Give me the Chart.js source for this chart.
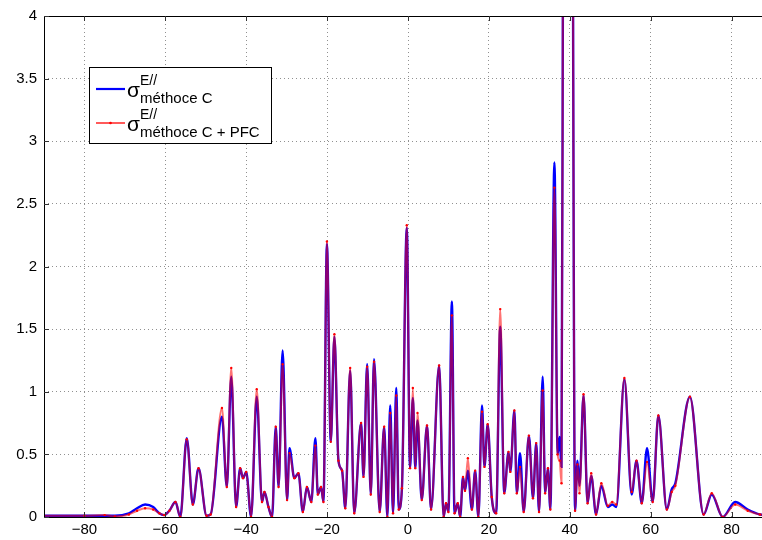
<!DOCTYPE html>
<html>
<head>
<meta charset="utf-8">
<script src="https://cdn.jsdelivr.net/npm/chart.js@4/dist/chart.umd.min.js"></script>
<style>
    html, body { margin: 0; padding: 0; background: #fff; overflow: hidden; }
    #wrap { width: 780px; height: 540px; }
</style>
</head>
<body>
<div id="wrap"><canvas id="sigmaChart" width="780" height="540"></canvas></div>
<script>
/************************
 *      Resource
 ************************/
const ANGLES = [
    -90, -80, -75, -72.5, -69, -67, -65, -63, -61.5, -60.3, -59, -57.5, -56.3, -54.7, -53.2, -51.8,
    -49.8, -48.8, -46, -44.8, -43.7, -42.5, -41.5, -40.8, -40, -38.8, -37.4, -36.1, -35.5, -34.5,
    -33.6, -32.7, -32, -31, -29.9, -29.3, -28.1, -27.1, -26, -25, -23.9, -22.9, -22.3, -21.5, -20.9,
    -20.05, -19.1, -18.2, -17.2, -16.3, -15.5, -14.3, -13.3, -11.6, -11, -10.1, -9.2, -8.4, -7,
    -5.9, -5.1, -4.4, -3.7, -2.9, -2.3, -1.5, -0.3, 0.5, 1.2, 1.8, 2.35, 3.4, 4.7, 5.7, 7.7, 8.8,
    9.4, 10, 10.85, 11.5, 12.3, 12.9, 13.6, 14.1, 14.8, 15.8, 16.6, 17.4, 18.3, 18.9, 19.7, 20.7,
    21.8, 22.8, 23.8, 24.85, 25.3, 26.3, 26.9, 27.7, 28.6, 29.9, 30.9, 31.7, 32.4, 33.3, 33.9,
    34.6, 35.2, 36.2, 37, 37.5, 37.95, 38.3, 39.55, 40.8, 41.3, 41.9, 42.4, 43.4, 44.4, 45.3,
    46.5, 47.8, 49.4, 50.5, 51.5, 53.5, 55.3, 56.5, 57.8, 59.1, 60.5, 61.9, 64, 65.2, 66.1,
    69.7, 73.1, 75.1, 77.8, 80.9, 84, 87, 90
]
const SIGMA_C = [
    0.01, 0.01, 0.01, 0.01, 0.03, 0.07, 0.10, 0.08, 0.03, 0.015, 0.05, 0.12, 0.0, 0.63, 0.10, 0.39,
    0.01, 0.02, 0.80, 0.24, 1.12, 0.08, 0.39, 0.31, 0.36, 0.0, 0.96, 0.12, 0.20, 0.08,
    0.0, 0.72, 0.24, 1.33, 0.135, 0.55, 0.31, 0.35, 0.04, 0.24, 0.12, 0.63, 0.18, 0.24, 0.12,
    2.18, 0.60, 1.44, 0.45, 0.37, 0.07, 1.17, 0.03, 0.75, 0.32, 1.22, 0.18, 1.26, 0.04,
    0.72, 0.0, 0.89, 0.03, 1.03, 0.06, 0.23, 2.31, 0.39, 0.95, 0.39, 0.77, 0.135, 0.73, 0.06, 1.21, 0.0,
    0.11, 0.04, 1.72, 0.03, 0.11, 0.0, 0.32, 0.21, 0.37, 0.06, 0.37, 0.0, 0.89, 0.40, 0.74, 0.16,
    0.03, 1.52, 0.19, 0.52, 0.36, 0.85, 0.19, 0.51, 0.04, 0.65, 0.15, 0.59, 0.04, 1.12, 0.19,
    0.39, 0.06, 2.83, 0.50, 0.64, 0.40, 4.2, 25, 4.2, 0.05, 0.45, 0.25, 0.97, 0.11, 0.33,
    0.02, 0.25, 0.08, 0.10, 0.08, 1.10, 0.18, 0.45, 0.11, 0.55, 0.12, 0.81, 0.06, 0.22, 0.27,
    0.96, 0.02, 0.18, 0.0, 0.12, 0.06, 0.02, 0.01
]
const SIGMA_C_PFC = [
    0.01, 0.01, 0.015, 0.005, 0.02, 0.05, 0.07, 0.06, 0.03, 0.015, 0.05, 0.12, 0.0, 0.62, 0.10, 0.39,
    0.01, 0.02, 0.87, 0.24, 1.19, 0.08, 0.39, 0.31, 0.36, 0.0, 1.02, 0.12, 0.20, 0.08,
    0.0, 0.72, 0.24, 1.22, 0.135, 0.51, 0.31, 0.35, 0.04, 0.24, 0.12, 0.57, 0.18, 0.24, 0.12,
    2.20, 0.60, 1.46, 0.45, 0.37, 0.07, 1.19, 0.03, 0.75, 0.32, 1.20, 0.18, 1.24, 0.04,
    0.72, 0.0, 0.83, 0.03, 0.97, 0.06, 0.23, 2.33, 0.39, 1.03, 0.39, 0.83, 0.135, 0.73, 0.06, 1.21, 0.0,
    0.11, 0.04, 1.61, 0.03, 0.11, 0.0, 0.32, 0.21, 0.47, 0.06, 0.37, 0.0, 0.84, 0.40, 0.74, 0.16,
    0.03, 1.66, 0.19, 0.52, 0.36, 0.85, 0.19, 0.40, 0.04, 0.65, 0.15, 0.59, 0.04, 1.01, 0.19,
    0.39, 0.06, 2.63, 0.50, 0.45, 0.27, 4.2, 25, 4.2, 0.05, 0.42, 0.19, 0.98, 0.11, 0.35,
    0.02, 0.27, 0.09, 0.12, 0.10, 1.11, 0.20, 0.45, 0.11, 0.44, 0.12, 0.81, 0.06, 0.20, 0.25,
    0.96, 0.02, 0.19, 0.0, 0.10, 0.05, 0.02, 0.01
]
const X_TICKS = [-80, -60, -40, -20, 0, 20, 40, 60, 80]
const Y_TICKS = [0, 0.5, 1, 1.5, 2, 2.5, 3, 3.5, 4]
const SERIES_NAMES = ["méthoce C", "méthoce C + PFC"]

const FONT = "'Liberation Sans', Arial, Helvetica, sans-serif"

/************************
 *      Method
 ************************/
const toPoints = (ys) => ANGLES.map((x, i) => ({ x: x, y: ys[i] }))

// MATLAB style box, inward ticks and the sigma legend
const framePlugin = {
    id: "frame",
    afterDatasetsDraw: (chart) => {
        const ctx = chart.ctx
        const area = chart.chartArea
        const xs = chart.scales.x
        const ys = chart.scales.y
        ctx.save()
        ctx.strokeStyle = "#000"
        ctx.lineWidth = 1
        ctx.beginPath()
        ctx.moveTo(area.left + 0.5, area.top + 0.5)
        ctx.lineTo(area.left + 0.5, area.bottom + 0.5)
        ctx.lineTo(area.right, area.bottom + 0.5)
        ctx.moveTo(area.left + 0.5, area.top + 0.5)
        ctx.lineTo(area.right, area.top + 0.5)
        ctx.stroke()

        ctx.strokeStyle = "#333"
        ctx.beginPath()
        X_TICKS.forEach(v => {
            const px = Math.round(xs.getPixelForValue(v)) + 0.5
            ctx.moveTo(px, area.bottom)
            ctx.lineTo(px, area.bottom - 5)
            ctx.moveTo(px, area.top)
            ctx.lineTo(px, area.top + 5)
        })
        Y_TICKS.forEach(v => {
            const py = Math.round(ys.getPixelForValue(v)) + 0.5
            ctx.moveTo(area.left, py)
            ctx.lineTo(area.left + 5, py)
        })
        ctx.stroke()
        ctx.restore()
    },
    afterDraw: (chart) => {
        const ctx = chart.ctx
        ctx.save()
        // box
        ctx.fillStyle = "#fff"
        ctx.fillRect(89.5, 67.5, 182, 76)
        ctx.strokeStyle = "#000"
        ctx.lineWidth = 1
        ctx.strokeRect(89.5, 67.5, 182, 76)

        // line samples
        ctx.lineWidth = 2.2
        ctx.strokeStyle = "#0000ff"
        ctx.beginPath()
        ctx.moveTo(96, 89)
        ctx.lineTo(125, 89)
        ctx.stroke()
        ctx.lineWidth = 1.3
        ctx.strokeStyle = "#ff0000"
        ctx.beginPath()
        ctx.moveTo(96, 123)
        ctx.lineTo(125, 123)
        ctx.stroke()
        ctx.fillStyle = "#ff0000"
        ctx.beginPath()
        ctx.arc(110.5, 123, 1.3, 0, Math.PI * 2)
        ctx.fill()

        // texts
        ctx.fillStyle = "#000"
        ctx.textBaseline = "alphabetic"
        ctx.textAlign = "left"
        const rows = [{ base: 97, name: SERIES_NAMES[0] }, { base: 131, name: SERIES_NAMES[1] }]
        rows.forEach(row => {
            ctx.font = "21px " + FONT
            ctx.fillText("σ", 127, row.base)
            ctx.font = "14px " + FONT
            ctx.fillText("E//", 140, row.base - 12)
            ctx.font = "15px " + FONT
            ctx.fillText(row.name, 140, row.base + 6)
        })
        ctx.restore()
    }
}

const createChart = () => {
    const data = {
        datasets: [{
            label: SERIES_NAMES[1],
            data: toPoints(SIGMA_C_PFC),
            borderColor: "rgba(255, 0, 0, 0.55)",
            borderWidth: 2,
            pointRadius: 1.2,
            pointBackgroundColor: "#ff0000",
            pointBorderWidth: 0,
            cubicInterpolationMode: "monotone",
            order: 1
        }, {
            label: SERIES_NAMES[0],
            data: toPoints(SIGMA_C),
            borderColor: "#0000ff",
            borderWidth: 2.4,
            pointRadius: 0,
            cubicInterpolationMode: "monotone",
            order: 2
        }]
    }

    new Chart("sigmaChart", {
        type: "line",
        data: data,
        options: {
            responsive: false,
            animation: false,
            devicePixelRatio: 1,
            layout: { padding: { top: 15, right: 8, left: 0, bottom: 0 } },
            plugins: {
                legend: { display: false },
                tooltip: { enabled: false }
            },
            scales: {
                x: {
                    type: "linear",
                    min: -90,
                    max: 90,
                    afterBuildTicks: (scale) => {
                        scale.ticks = X_TICKS.map(v => ({ value: v }))
                    },
                    afterFit: (scale) => { scale.height = 23 },
                    grid: { color: "#909090", drawTicks: false, lineWidth: 1 },
                    border: { display: false, dash: [1, 3] },
                    ticks: {
                        padding: 4,
                        color: "#000",
                        font: { family: FONT, size: 15 },
                        maxRotation: 0,
                        callback: (v) => v < 0 ? "\u2212" + Math.abs(v) : String(v)
                    }
                },
                y: {
                    min: 0,
                    max: 4,
                    afterBuildTicks: (scale) => {
                        scale.ticks = Y_TICKS.map(v => ({ value: v }))
                    },
                    afterFit: (scale) => { scale.width = 44 },
                    grid: { color: "#909090", drawTicks: false, lineWidth: 1 },
                    border: { display: false, dash: [1, 3] },
                    ticks: {
                        padding: 7,
                        color: "#000",
                        font: { family: FONT, size: 15 },
                        callback: (v) => String(v)
                    }
                }
            }
        },
        plugins: [framePlugin]
    })
}

createChart()
</script>
</body>
</html>
